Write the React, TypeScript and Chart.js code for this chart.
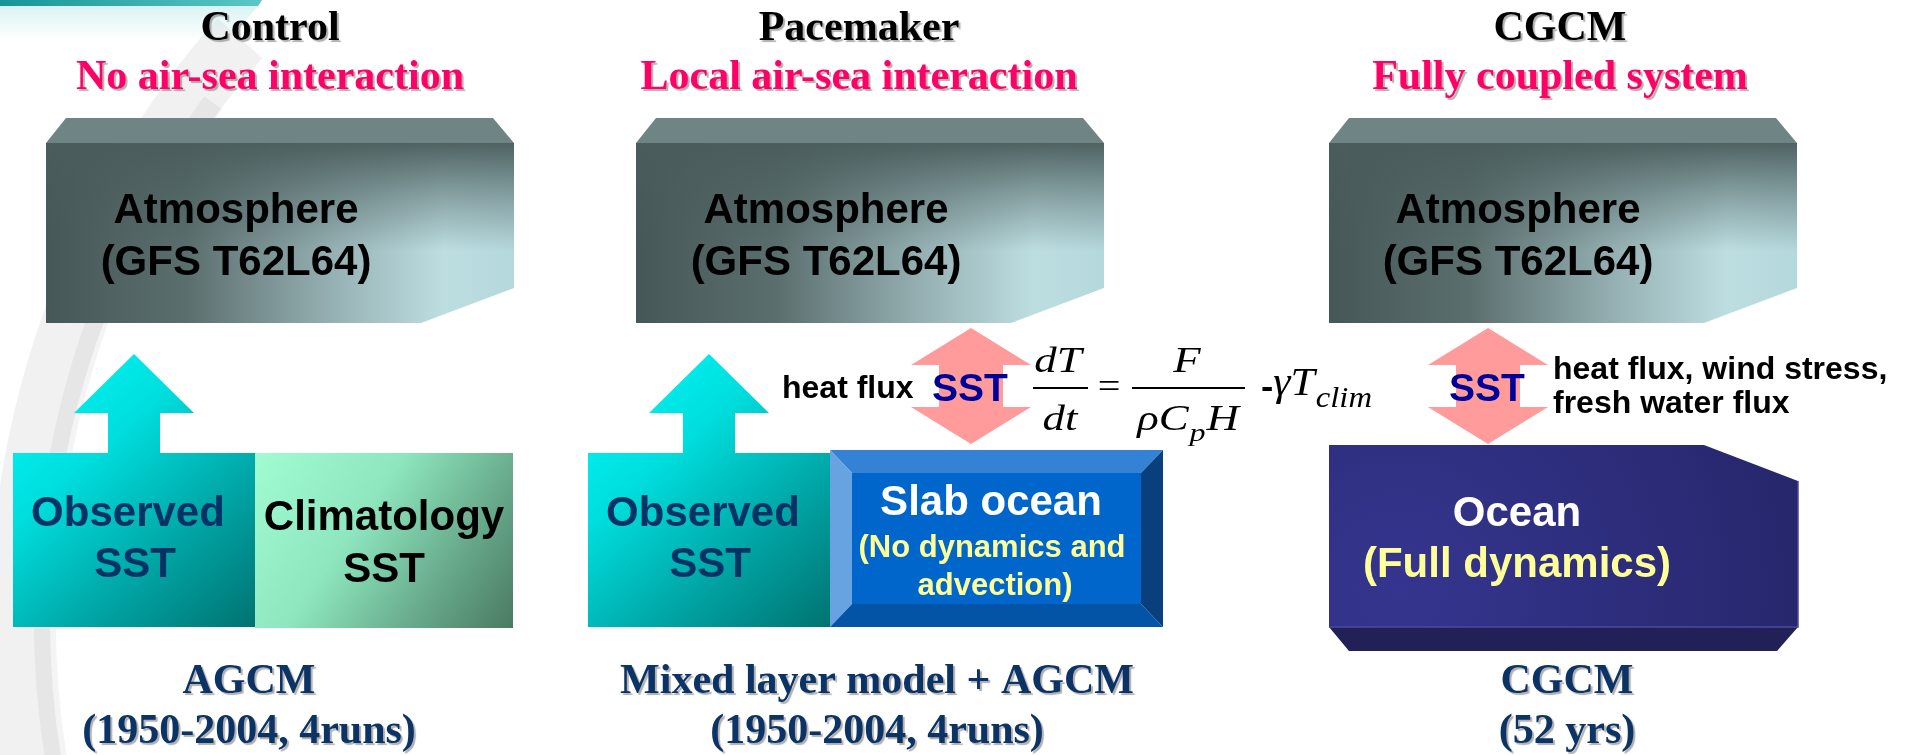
import React, { useEffect, useRef } from "react";
import { Chart, registerables } from "chart.js";

Chart.register(...registerables);

const CANVAS_W = 1906;
const CANVAS_H = 755;

// ---- Diagram content (diagram units = value space of the hidden x / y scales) ----
const panelTitles = ["Control", "Pacemaker", "CGCM"];
const panelSubtitles = ["No air-sea interaction", "Local air-sea interaction", "Fully coupled system"];
const panelTitleX = [270, 859, 1560];

const footerTitles = ["AGCM", "Mixed layer model + AGCM", "CGCM"];
const footerSubtitles = ["(1950-2004, 4runs)", "(1950-2004, 4runs)", "(52 yrs)"];
const footerX = [249, 877, 1567];

const atmosLabels = ["Atmosphere", "(GFS T62L64)"];
const atmosLeft = [46, 636, 1329];
const atmosLabelX = [236, 826, 1518];

const observedLabels = ["Observed", "SST"];
const observedLeft = [13, 588];
const observedRight = [255, 830];
const climLabels = ["Climatology", "SST"];
const slabLabels = ["Slab ocean", "(No dynamics and", "advection)"];
const oceanLabels = ["Ocean", "(Full dynamics)"];

const exchangeArrowX = [971, 1488];
const exchangeLabels = ["heat flux", "heat flux, wind stress,", "fresh water flux"];

const SERIF = '"Liberation Serif", "Times New Roman", serif';
const SANS = '"Liberation Sans", Arial, sans-serif';

type Pt = [number, number];

const diagramPlugin = {
  id: "diagram",
  beforeDatasetsDraw(chart: any) {
    const ctx: CanvasRenderingContext2D = chart.ctx;
    const sx = chart.scales.x;
    const sy = chart.scales.y;
    const X = (v: number) => sx.getPixelForValue(v);
    const Y = (v: number) => sy.getPixelForValue(v);

    const path = (pts: Pt[]) => {
      ctx.beginPath();
      pts.forEach(([a, b], i) => (i ? ctx.lineTo(X(a), Y(b)) : ctx.moveTo(X(a), Y(b))));
      ctx.closePath();
    };
    const fillPoly = (pts: Pt[], style: any) => {
      path(pts);
      ctx.fillStyle = style;
      ctx.fill();
    };
    const lin = (x0: number, y0: number, x1: number, y1: number, stops: [number, string][]) => {
      const g = ctx.createLinearGradient(X(x0), Y(y0), X(x1), Y(y1));
      stops.forEach(([o, c]) => g.addColorStop(o, c));
      return g;
    };
    const txt = (
      s: string,
      x: number,
      y: number,
      font: string,
      color: string,
      align: CanvasTextAlign = "center",
      shadow = false,
      xScale = 1
    ) => {
      ctx.save();
      ctx.font = font;
      ctx.fillStyle = color;
      ctx.textAlign = align;
      ctx.textBaseline = "alphabetic";
      if (shadow) {
        ctx.shadowColor = "rgba(110,110,110,0.55)";
        ctx.shadowOffsetX = 2;
        ctx.shadowOffsetY = 2;
        ctx.shadowBlur = 1;
      }
      ctx.translate(X(x), Y(y));
      ctx.scale(xScale, 1);
      ctx.fillText(s, 0, 0);
      const w = ctx.measureText(s).width * xScale;
      ctx.restore();
      return w;
    };
    const measure = (s: string, font: string) => {
      ctx.save();
      ctx.font = font;
      const w = ctx.measureText(s).width;
      ctx.restore();
      return w;
    };
    const hline = (x0: number, x1: number, y: number) => {
      ctx.save();
      ctx.strokeStyle = "#000";
      ctx.lineWidth = 2;
      ctx.beginPath();
      ctx.moveTo(X(x0), Y(y));
      ctx.lineTo(X(x1), Y(y));
      ctx.stroke();
      ctx.restore();
    };

    ctx.save();
    // background
    ctx.fillStyle = "#ffffff";
    ctx.fillRect(0, 0, chart.width, chart.height);

    // decorative swoosh
    ctx.save();
    ctx.beginPath();
    ctx.arc(X(900), Y(620), 880, Math.PI * 0.93, Math.PI * 1.23);
    ctx.lineWidth = 60;
    ctx.strokeStyle = "rgba(0,0,0,0.055)";
    ctx.stroke();
    ctx.beginPath();
    ctx.arc(X(925), Y(620), 880, Math.PI * 0.94, Math.PI * 1.2);
    ctx.lineWidth = 22;
    ctx.strokeStyle = "rgba(0,0,0,0.045)";
    ctx.stroke();
    ctx.restore();

    // top-left strip
    fillPoly([[0, 0], [262, 0], [258, 6], [0, 6]], lin(0, 0, 262, 0, [[0, "#179595"], [1, "#5cc6c6"]]));
    fillPoly([[0, 6], [258, 6], [230, 40], [0, 40]], lin(0, 6, 0, 40, [[0, "rgba(150,220,220,0.35)"], [1, "rgba(150,220,220,0)"]]));

    // titles
    panelTitles.forEach((t, i) => {
      txt(t, panelTitleX[i], 40, `bold 42px ${SERIF}`, "#000", "center", true);
      txt(panelSubtitles[i], panelTitleX[i], 89, `bold 42px ${SERIF}`, "#ff0066", "center", true);
    });

    // atmosphere blocks
    atmosLeft.forEach((L, i) => {
      const R = L + 468;
      const cut = R - 93;
      const top = 118, face = 143, cutY = 288, bot = 323;
      fillPoly([[L, face], [L + 20, top], [R - 21, top], [R, face]], "#6f8585");
      const facePts: Pt[] = [[L, face], [R, face], [R, cutY], [cut, bot], [L, bot]];
      fillPoly(
        facePts,
        lin(L, 0, R, 0, [
          [0, "#465757"],
          [0.3, "#5b6e6e"],
          [0.62, "#97b2b5"],
          [0.85, "#bddee1"],
          [1, "#b5d8dc"],
        ])
      );
      fillPoly(
        facePts,
        lin(0, face, 0, bot, [
          [0, "rgba(74,92,92,0.95)"],
          [0.3, "rgba(74,92,92,0.45)"],
          [0.6, "rgba(74,92,92,0)"],
          [1, "rgba(74,92,92,0)"],
        ])
      );
      txt(atmosLabels[0], atmosLabelX[i], 223, `bold 42px ${SANS}`, "#000");
      txt(atmosLabels[1], atmosLabelX[i], 275, `bold 42px ${SANS}`, "#000");
    });

    // observed SST boxes with upward cyan arrows
    observedLeft.forEach((L, i) => {
      const R = observedRight[i];
      const c = (L + R) / 2;
      const g = lin(L, 354, R, 627, [
        [0, "#00fafa"],
        [0.35, "#00dede"],
        [0.7, "#00a2a2"],
        [1, "#007371"],
      ]);
      fillPoly(
        [
          [c, 354], [c + 60, 413], [c + 26, 413], [c + 26, 453], [R, 453], [R, 627],
          [L, 627], [L, 453], [c - 26, 453], [c - 26, 413], [c - 60, 413],
        ],
        g
      );
      txt(observedLabels[0], c - 6, 526, `bold 42px ${SANS}`, "#003366");
      txt(observedLabels[1], c + 1, 577, `bold 42px ${SANS}`, "#003366");
    });

    // climatology box
    fillPoly(
      [[255, 453], [513, 453], [513, 628], [255, 628]],
      lin(255, 453, 513, 628, [
        [0, "#a2fcd2"],
        [0.4, "#8de6be"],
        [0.72, "#68aa8b"],
        [1, "#4a7a62"],
      ])
    );
    txt(climLabels[0], 384, 530, `bold 42px ${SANS}`, "#000");
    txt(climLabels[1], 384, 582, `bold 42px ${SANS}`, "#000");

    // slab ocean (bevelled)
    {
      const L = 830, R = 1163, T = 450, B = 627, b = 22;
      fillPoly([[L, T], [R, T], [R - b, T + 23], [L + b, T + 23]], "#3382d5");
      fillPoly([[L, T], [L + b, T + 23], [L + b, B - 23], [L, B]], "#66a3e0");
      fillPoly([[R, T], [R, B], [R - b, B - 23], [R - b, T + 23]], "#0a3f7e");
      fillPoly([[L, B], [L + b, B - 23], [R - b, B - 23], [R, B]], "#0354a6");
      fillPoly([[L + b, T + 23], [R - b, T + 23], [R - b, B - 23], [L + b, B - 23]], "#0066cc");
      txt(slabLabels[0], 991, 515, `bold 42px ${SANS}`, "#ffffff");
      txt(slabLabels[1], 992, 557, `bold 31px ${SANS}`, "#ffff99");
      txt(slabLabels[2], 995, 595, `bold 31px ${SANS}`, "#ffff99");
    }

    // ocean (CGCM)
    {
      const L = 1329, R = 1798;
      fillPoly([[L, 627], [R, 627], [R - 21, 651], [L + 20, 651]], "#212158");
      const rg = ctx.createRadialGradient(X(1400), Y(590), 0, X(1400), Y(590), 430);
      rg.addColorStop(0, "#35358f");
      rg.addColorStop(1, "#26266b");
      fillPoly([[L, 445], [1704, 445], [R, 481], [R, 627], [L, 627]], rg);
      ctx.save();
      ctx.strokeStyle = "#4a4aa2";
      ctx.lineWidth = 1.5;
      ctx.beginPath();
      ctx.moveTo(X(L), Y(627));
      ctx.lineTo(X(R), Y(627));
      ctx.lineTo(X(R), Y(481));
      ctx.stroke();
      ctx.restore();
      txt(oceanLabels[0], 1517, 526, `bold 42px ${SANS}`, "#ffffff");
      txt(oceanLabels[1], 1517, 577, `bold 42px ${SANS}`, "#ffff99");
    }

    // pink double arrows with SST
    exchangeArrowX.forEach((c) => {
      fillPoly(
        [
          [c, 328], [c + 60, 365], [c + 32, 365], [c + 32, 407], [c + 60, 407], [c, 444],
          [c - 60, 407], [c - 32, 407], [c - 32, 365], [c - 60, 365],
        ],
        "#ff9b9b"
      );
      txt("SST", c - 1, 401, `bold 39px ${SANS}`, "#000099");
    });
    txt(exchangeLabels[0], 782, 398, `bold 32px ${SANS}`, "#000", "left");
    txt(exchangeLabels[1], 1553, 379, `bold 32px ${SANS}`, "#000", "left");
    txt(exchangeLabels[2], 1553, 413, `bold 32px ${SANS}`, "#000", "left");

    // equation dT/dt = F/(rho C_p H) - gamma T_clim  (horizontally stretched italic serif)
    const it = (s: number) => `italic ${s}px ${SERIF}`;
    const EQX = 1.28;
    txt("dT", 1058, 372, it(35), "#000", "center", false, EQX);
    hline(1033, 1088, 388);
    txt("dt", 1060, 430, it(35), "#000", "center", false, EQX);
    txt("=", 1109, 398, `35px ${SERIF}`, "#000", "center", false, 1.15);
    txt("F", 1187, 372, it(35), "#000", "center", false, EQX);
    hline(1132, 1245, 388);
    {
      const w1 = measure("\u03c1C", it(35)) * EQX;
      const w2 = measure("p", it(25)) * EQX;
      const w3 = measure("H", it(35)) * EQX;
      let x = 1188 - (w1 + w2 + 2 + w3) / 2;
      x += txt("\u03c1C", x, 430, it(35), "#000", "left", false, EQX);
      x += 1 + txt("p", x + 1, 441, it(25), "#000", "left", false, EQX);
      txt("H", x + 1, 430, it(35), "#000", "left", false, EQX);
    }
    {
      // -γT_clim spanning ~1260..1372
      const fDash = `bold 34px ${SANS}`;
      const nat =
        measure("-", fDash) + measure("\u03b3", it(40)) + measure("T", it(40)) + measure("clim", it(30));
      const k = 110 / nat;
      let x = 1261;
      x += txt("-", x, 398, fDash, "#000", "left", false, k);
      x += txt("\u03b3", x, 395, it(40), "#000", "left", false, k);
      x += txt("T", x, 395, it(40), "#000", "left", false, k);
      txt("clim", x + 1, 407, it(30), "#000", "left", false, k);
    }

    // footers
    footerTitles.forEach((t, i) => {
      txt(t, footerX[i], 693, `bold 42px ${SERIF}`, "#0b3366", "center", true);
      txt(footerSubtitles[i], footerX[i], 743, `bold 42px ${SERIF}`, "#0b3366", "center", true);
    });

    ctx.restore();
  },
};

export default function App() {
  const ref = useRef<HTMLCanvasElement>(null);
  useEffect(() => {
    document.body.style.margin = "0";
    const chart = new Chart(ref.current as HTMLCanvasElement, {
      type: "scatter",
      data: { datasets: [{ data: [], pointRadius: 0 }] },
      options: {
        animation: false,
        responsive: false,
        maintainAspectRatio: false,
        devicePixelRatio: 1,
        layout: { padding: 0 },
        events: [],
        scales: {
          x: { type: "linear", min: 0, max: CANVAS_W, display: false },
          y: { type: "linear", min: 0, max: CANVAS_H, reverse: true, display: false },
        },
        plugins: { legend: { display: false }, tooltip: { enabled: false }, title: { display: false } },
      } as any,
      plugins: [diagramPlugin as any],
    });
    return () => chart.destroy();
  }, []);
  return (
    <div style={{ position: "fixed", left: 0, top: 0, width: CANVAS_W, height: CANVAS_H, background: "#fff" }}>
      <canvas ref={ref} width={CANVAS_W} height={CANVAS_H} style={{ display: "block" }} />
    </div>
  );
}
